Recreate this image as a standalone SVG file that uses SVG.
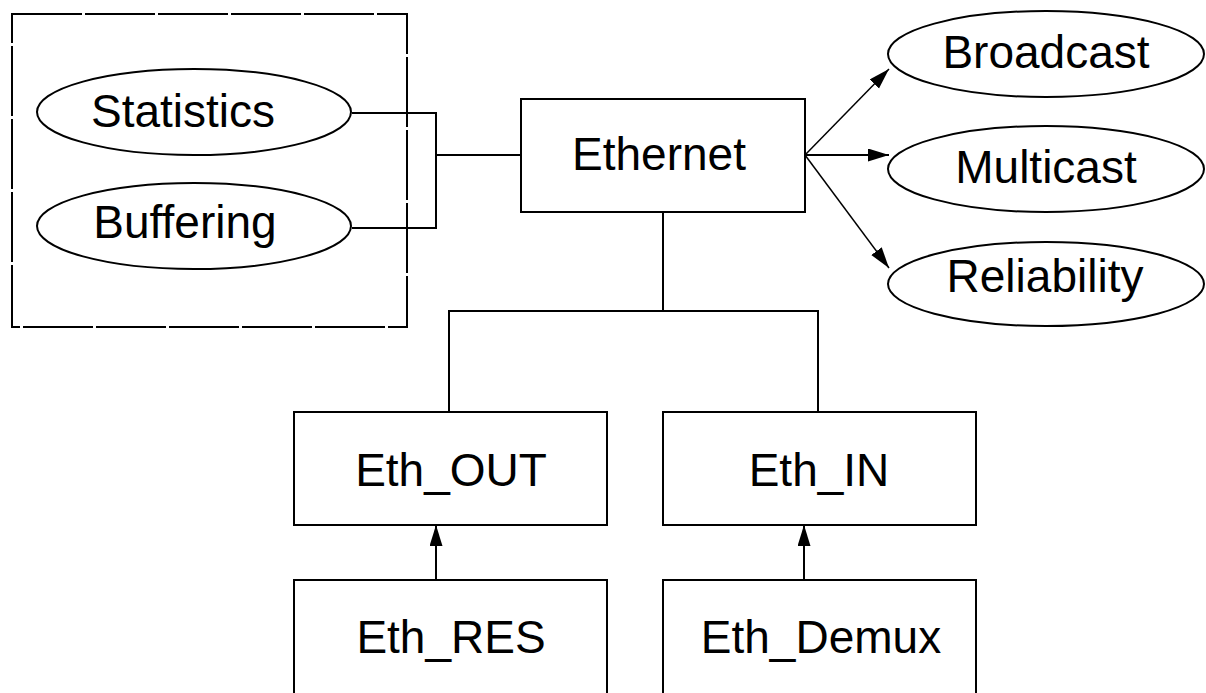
<svg xmlns="http://www.w3.org/2000/svg" width="1206" height="693" viewBox="0 0 1206 693">
<style>
.box{fill:#fff;stroke:#000;stroke-width:2}
.ell{fill:#fff;stroke:#000;stroke-width:2}
.lbl{font-family:"Liberation Sans",Arial,sans-serif;font-size:46px;fill:#000;text-anchor:middle}
.ln{fill:none;stroke:#000;stroke-width:2}
.thin{fill:none;stroke:#000;stroke-width:1.5}
.dash{fill:none;stroke:#000;stroke-width:2;stroke-dasharray:70 3}
</style>
<defs>
<marker id="ah" markerUnits="userSpaceOnUse" markerWidth="24" markerHeight="16" refX="21" refY="6.5" orient="auto">
<path d="M0,0 L21,6.5 L0,13 Z" fill="#000"/>
</marker>
</defs>
<rect fill="#fff" x="0" y="0" width="1206" height="693"/>
<g id="group-box">
<rect class="dash" x="12" y="14" width="395" height="313"/>
</g>
<g id="connectors">
<path class="ln" d="M352,113 H436 V228 H352"/>
<path class="ln" d="M436,155 H521"/>
<path class="ln" d="M663,212 V311"/>
<path class="ln" d="M449,412 V311 H818 V412"/>
<path class="thin" d="M805,155 L889,69" marker-end="url(#ah)"/>
<path class="ln" d="M805,155 L889,155" marker-end="url(#ah)"/>
<path class="thin" d="M805,155 L889,268" marker-end="url(#ah)"/>
<path class="ln" d="M436,580 V525" marker-end="url(#ah)"/>
<path class="ln" d="M804,580 V525" marker-end="url(#ah)"/>
</g>
<g id="statistics">
<ellipse class="ell" cx="194" cy="112" rx="157" ry="43"/>
<text class="lbl" x="183" y="127">Statistics</text>
</g>
<g id="buffering">
<ellipse class="ell" cx="194" cy="226" rx="157" ry="43"/>
<text class="lbl" x="185" y="238">Buffering</text>
</g>
<g id="ethernet">
<rect class="box" x="521" y="99" width="284" height="113"/>
<text class="lbl" x="659" y="170">Ethernet</text>
</g>
<g id="broadcast">
<ellipse class="ell" cx="1046" cy="54" rx="158" ry="43"/>
<text class="lbl" x="1046" y="68">Broadcast</text>
</g>
<g id="multicast">
<ellipse class="ell" cx="1046" cy="169" rx="158" ry="43"/>
<text class="lbl" x="1046" y="183">Multicast</text>
</g>
<g id="reliability">
<ellipse class="ell" cx="1046" cy="284" rx="158" ry="42"/>
<text class="lbl" x="1045" y="292">Reliability</text>
</g>
<g id="eth-out">
<rect class="box" x="294" y="412" width="313" height="113"/>
<text class="lbl" x="451" y="486">Eth_OUT</text>
</g>
<g id="eth-in">
<rect class="box" x="663" y="412" width="313" height="113"/>
<text class="lbl" x="819" y="486">Eth_IN</text>
</g>
<g id="eth-res">
<rect class="box" x="294" y="580" width="313" height="130"/>
<text class="lbl" x="451" y="653">Eth_RES</text>
</g>
<g id="eth-demux">
<rect class="box" x="663" y="580" width="313" height="130"/>
<text class="lbl" x="821" y="653">Eth_Demux</text>
</g>
</svg>
